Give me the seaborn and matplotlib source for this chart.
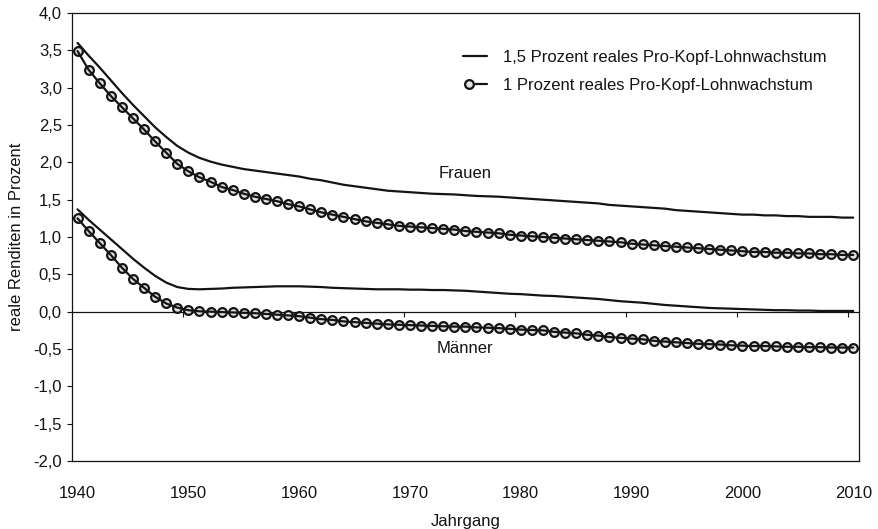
import numpy as np
import pandas as pd
import matplotlib
matplotlib.use("Agg")
import matplotlib.pyplot as plt
import seaborn as sns
from matplotlib.lines import Line2D
from matplotlib.legend_handler import HandlerTuple

# Jahrgänge 1940 bis 2010
years = list(range(1940, 2011))

# Frauen, 1,5 Prozent reales Pro-Kopf-Lohnwachstum
frauen_15 = [
    3.60, 3.43, 3.27, 3.10, 2.93, 2.77, 2.62, 2.47, 2.34, 2.22,
    2.13, 2.06, 2.01, 1.97, 1.94, 1.91, 1.89, 1.87, 1.85, 1.83,
    1.81, 1.78, 1.76, 1.73, 1.70, 1.68, 1.66, 1.64, 1.62, 1.61,
    1.60, 1.59, 1.58, 1.575, 1.57, 1.56, 1.55, 1.545, 1.54, 1.53,
    1.52, 1.51, 1.50, 1.49, 1.48, 1.47, 1.46, 1.45, 1.43, 1.42,
    1.41, 1.40, 1.39, 1.38, 1.36, 1.35, 1.34, 1.33, 1.32, 1.31,
    1.30, 1.30, 1.29, 1.29, 1.28, 1.28, 1.27, 1.27, 1.27, 1.26,
    1.26,
]

# Frauen, 1 Prozent reales Pro-Kopf-Lohnwachstum
frauen_10 = [
    3.49, 3.24, 3.06, 2.89, 2.74, 2.59, 2.44, 2.28, 2.13, 1.98,
    1.88, 1.80, 1.74, 1.67, 1.63, 1.58, 1.54, 1.51, 1.48, 1.44,
    1.41, 1.37, 1.33, 1.30, 1.27, 1.24, 1.21, 1.19, 1.17, 1.15,
    1.14, 1.13, 1.12, 1.11, 1.10, 1.08, 1.07, 1.06, 1.05, 1.03,
    1.02, 1.01, 1.00, 0.99, 0.98, 0.97, 0.96, 0.95, 0.94, 0.93,
    0.91, 0.90, 0.89, 0.88, 0.87, 0.86, 0.85, 0.84, 0.83, 0.82,
    0.81, 0.80, 0.80, 0.79, 0.79, 0.78, 0.78, 0.77, 0.77, 0.76,
    0.76,
]

# Männer, 1,5 Prozent reales Pro-Kopf-Lohnwachstum
maenner_15 = [
    1.37, 1.23, 1.10, 0.97, 0.84, 0.71, 0.59, 0.48, 0.39, 0.33,
    0.305, 0.30, 0.305, 0.31, 0.32, 0.325, 0.33, 0.335, 0.34, 0.34,
    0.34, 0.335, 0.33, 0.32, 0.315, 0.31, 0.305, 0.30, 0.30, 0.30,
    0.295, 0.295, 0.29, 0.29, 0.285, 0.28, 0.27, 0.26, 0.25, 0.24,
    0.235, 0.225, 0.215, 0.21, 0.20, 0.19, 0.18, 0.17, 0.155, 0.14,
    0.13, 0.12, 0.105, 0.09, 0.08, 0.07, 0.06, 0.05, 0.045, 0.04,
    0.035, 0.03, 0.025, 0.02, 0.02, 0.015, 0.015, 0.01, 0.01, 0.01,
    0.01,
]

# Männer, 1 Prozent reales Pro-Kopf-Lohnwachstum
maenner_10 = [
    1.25, 1.08, 0.92, 0.76, 0.59, 0.44, 0.32, 0.20, 0.11, 0.055,
    0.02, 0.005, 0.00, -0.005, -0.01, -0.015, -0.02, -0.03, -0.04, -0.05,
    -0.06, -0.08, -0.10, -0.11, -0.13, -0.14, -0.15, -0.16, -0.17, -0.175,
    -0.18, -0.185, -0.19, -0.195, -0.20, -0.20, -0.21, -0.215, -0.22, -0.23,
    -0.24, -0.245, -0.25, -0.27, -0.28, -0.29, -0.31, -0.32, -0.34, -0.35,
    -0.36, -0.37, -0.39, -0.40, -0.41, -0.42, -0.43, -0.435, -0.44, -0.45,
    -0.455, -0.46, -0.46, -0.465, -0.47, -0.47, -0.475, -0.475, -0.48, -0.48,
    -0.48,
]

legend_labels = [
    "1,5 Prozent reales Pro-Kopf-Lohnwachstum",
    "1 Prozent reales Pro-Kopf-Lohnwachstum",
]
y_ticks = [-2.0, -1.5, -1.0, -0.5, 0.0, 0.5, 1.0, 1.5, 2.0, 2.5, 3.0, 3.5, 4.0]
x_ticks = [1940, 1950, 1960, 1970, 1980, 1990, 2000, 2010]

sns.set_theme(style="white")
plt.rcParams["font.family"] = ["Liberation Sans", "DejaVu Sans"]

INK = "#141414"
LW = 1.6
FS = 12

fig = plt.figure(figsize=(8.79, 5.29), dpi=100)
ax = fig.add_axes([0.0819, 0.1285, 0.8951, 0.8469])

marker_kw = dict(marker="o", markersize=6.3, markeredgewidth=1.6,
                 markeredgecolor=INK, markerfacecolor="#e2e2e2",
                 linestyle="none")

for solid, dotted in ((frauen_15, frauen_10), (maenner_15, maenner_10)):
    sns.lineplot(x=years, y=solid, ax=ax, color=INK, linewidth=LW,
                 zorder=3, legend=False)
    # markers first, then the connecting line on top of them
    sns.lineplot(x=years, y=dotted, ax=ax, color=INK, zorder=3,
                 legend=False, **marker_kw)
    sns.lineplot(x=years, y=dotted, ax=ax, color=INK, linewidth=LW,
                 zorder=4, legend=False)

ax.set_xlim(1939.5, 2010.5)
ax.set_ylim(-2.0, 4.0)

ax.set_yticks(y_ticks)
ax.set_yticklabels([f"{v:.1f}".replace(".", ",") for v in y_ticks], fontsize=FS)
ax.tick_params(axis="y", direction="out", length=3.3, width=0.8, pad=4,
               colors=INK, left=True)

ax.set_xticks(x_ticks)
ax.set_xticklabels([str(v) for v in x_ticks], fontsize=FS)
ax.tick_params(axis="x", length=0, pad=18, colors=INK)

for side in ("left", "right", "top", "bottom"):
    ax.spines[side].set_visible(True)
    ax.spines[side].set_color(INK)
    ax.spines[side].set_linewidth(0.9)

# horizontal axis crossing at zero, with tick marks between the categories
zero_axis = ax.secondary_xaxis(1 / 3)
zero_axis.set_xticks([y + 9.5 for y in x_ticks[:-1]])
zero_axis.set_xticklabels([])
zero_axis.tick_params(axis="x", direction="out", length=3.5, width=0.8,
                      colors=INK)
zero_axis.spines["bottom"].set_color(INK)
zero_axis.spines["bottom"].set_linewidth(0.9)

ax.set_xlabel("Jahrgang", fontsize=FS, color=INK, labelpad=9)
ax.set_ylabel("reale Renditen in Prozent", fontsize=FS, color=INK, labelpad=7)

ax.text(1975, 1.85, "Frauen", fontsize=FS, color=INK, ha="center", va="center")
ax.text(1975, -0.49, "Männer", fontsize=FS, color=INK, ha="center", va="center")

h_solid = Line2D([], [], color=INK, linewidth=LW)
h_mark = Line2D([], [], color=INK, **marker_kw)
h_line = Line2D([], [], color=INK, linewidth=LW)
ax.legend([h_solid, (h_mark, h_line)], legend_labels,
          handler_map={tuple: HandlerTuple(ndivide=None)},
          loc="upper left", bbox_to_anchor=(0.4975, 0.918), frameon=False,
          fontsize=FS, handlelength=1.4, handletextpad=1.0,
          labelspacing=0.8, borderaxespad=0, borderpad=0,
          labelcolor=INK)

fig.savefig("out.png", dpi=100, facecolor="white")
